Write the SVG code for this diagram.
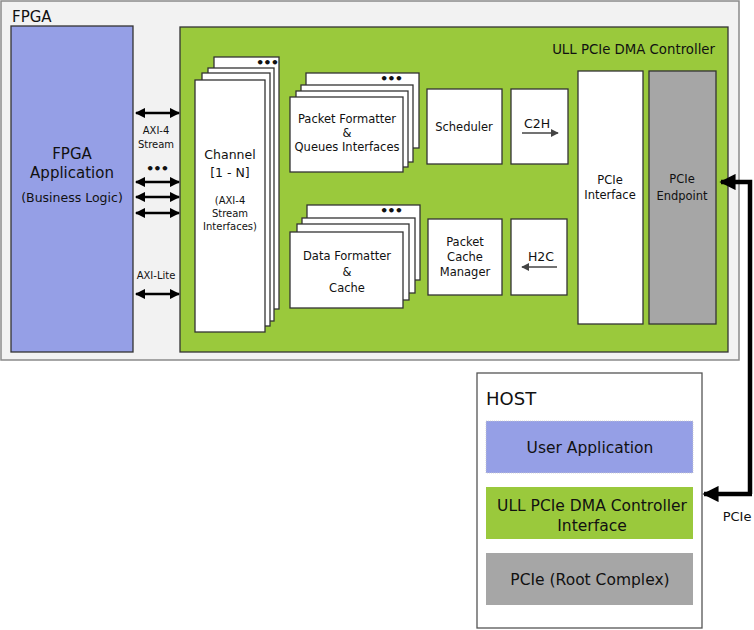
<svg xmlns="http://www.w3.org/2000/svg" width="754" height="630" viewBox="0 0 754 630">
<defs>
<style>
text{font-family:"DejaVu Sans","Noto Sans",sans-serif;fill:#111;text-anchor:middle}
.box{fill:#fff;stroke:#333;stroke-width:1.3}
.lbl{font-size:12.5px}
.sm{font-size:11.5px}
.xs{font-size:10px}
.dots{font-size:13px;font-weight:bold;letter-spacing:-1px}
.big{font-size:15px}
.host{font-size:15.5px}
.bus{stroke:#000;stroke-width:2.5;fill:none;marker-start:url(#ah);marker-end:url(#ah)}
</style>
<marker id="ah" viewBox="0 0 10 10" refX="9" refY="5" markerWidth="4.2" markerHeight="4.2" orient="auto-start-reverse" markerUnits="strokeWidth">
<path d="M0,0 L10,5 L0,10 z" fill="#000"/>
</marker>
<marker id="sa" viewBox="0 0 10 10" refX="9" refY="5" markerWidth="5" markerHeight="5" orient="auto" markerUnits="strokeWidth">
<path d="M0,0 L10,5 L0,10 z" fill="#444"/>
</marker>
<marker id="big" viewBox="0 0 10 10" refX="9" refY="5" markerWidth="3.6" markerHeight="3.6" orient="auto" markerUnits="strokeWidth">
<path d="M0,0 L10,5 L0,10 z" fill="#000"/>
</marker>
</defs>

<g id="fpga">
<rect x="1" y="1" width="738" height="359" fill="#f2f2f2" stroke="#8a8a8a" stroke-width="1.5"/>
<text x="12" y="22" style="font-size:15px;text-anchor:start">FPGA</text>
</g>

<g id="fpga-app">
<rect x="11" y="26" width="122" height="326" fill="#959fe6" stroke="#333" stroke-width="1.3"/>
<text x="72" y="159" class="big">FPGA</text>
<text x="72" y="178" class="big">Application</text>
<text x="72" y="202" class="lbl">(Business Logic)</text>
</g>

<g id="dma-controller">
<rect x="180" y="27" width="548" height="325" fill="#9ac93c" stroke="#333" stroke-width="1.3"/>
<text x="715" y="54" style="font-size:13.3px;text-anchor:end">ULL PCIe DMA Controller</text>
</g>

<g id="channel">
<rect class="box" x="214" y="57" width="65" height="252"/>
<rect class="box" x="208" y="68" width="66" height="253"/>
<rect class="box" x="202" y="73" width="68" height="253"/>
<rect class="box" x="195" y="80" width="70" height="252"/>
<text x="267" y="67" class="dots">•••</text>
<text x="230" y="159" class="lbl">Channel</text>
<text x="230" y="177" class="lbl">[1 - N]</text>
<text x="230" y="204" class="xs">(AXI-4</text>
<text x="230" y="217" class="xs">Stream</text>
<text x="230" y="230" class="xs">Interfaces)</text>
</g>

<g id="packet-formatter">
<rect class="box" x="306" y="73" width="113" height="75"/>
<rect class="box" x="301" y="85" width="112" height="77"/>
<rect class="box" x="296" y="91" width="112" height="76"/>
<rect class="box" x="290" y="97" width="113" height="75"/>
<text x="391" y="83" class="dots">•••</text>
<text x="347" y="123" class="sm">Packet Formatter</text>
<text x="347" y="137" class="sm">&amp;</text>
<text x="347" y="151" class="sm">Queues Interfaces</text>
</g>

<g id="data-formatter">
<rect class="box" x="307" y="205" width="113" height="75"/>
<rect class="box" x="302" y="218" width="113" height="75"/>
<rect class="box" x="297" y="224" width="112" height="76"/>
<rect class="box" x="290" y="232" width="113" height="76"/>
<text x="391" y="215" class="dots">•••</text>
<text x="347" y="260" class="sm">Data Formatter</text>
<text x="347" y="276" class="sm">&amp;</text>
<text x="347" y="292" class="sm">Cache</text>
</g>

<g id="scheduler">
<rect class="box" x="427" y="89" width="75" height="75"/>
<text x="464" y="131" class="sm">Scheduler</text>
</g>

<g id="c2h">
<rect class="box" x="511" y="89" width="57" height="75"/>
<text x="537" y="128" class="lbl">C2H</text>
</g>

<g id="packet-cache-manager">
<rect class="box" x="428" y="219" width="74" height="76"/>
<text x="465" y="246" class="sm">Packet</text>
<text x="465" y="261" class="sm">Cache</text>
<text x="465" y="276" class="sm">Manager</text>
</g>

<g id="h2c">
<rect class="box" x="511" y="219" width="56" height="76"/>
<text x="541" y="261" class="lbl">H2C</text>
</g>

<g id="pcie-interface">
<rect class="box" x="578" y="71" width="65" height="253"/>
<text x="610" y="184" class="sm">PCIe</text>
<text x="610" y="199" class="sm">Interface</text>
</g>

<g id="pcie-endpoint">
<rect x="649" y="71" width="67" height="253" fill="#a6a6a6" stroke="#333" stroke-width="1.3"/>
<text x="682" y="183" class="sm">PCIe</text>
<text x="682" y="200" class="sm">Endpoint</text>
</g>

<g id="host">
<rect x="477" y="373" width="225" height="255" fill="#fff" stroke="#555" stroke-width="1.3"/>
<text x="486" y="405" style="font-size:18px;text-anchor:start">HOST</text>
</g>

<g id="user-application">
<rect x="486" y="421" width="207" height="52" fill="#959fe6" stroke="#ccc" stroke-width="0.8" stroke-dasharray="1,1"/>
<text x="590" y="453" class="host">User Application</text>
</g>

<g id="host-dma-interface">
<rect x="486" y="487" width="207" height="52" fill="#9ac93c"/>
<text x="592" y="511" class="host">ULL PCIe DMA Controller</text>
<text x="592" y="531" class="host">Interface</text>
</g>

<g id="root-complex">
<rect x="486" y="553" width="207" height="52" fill="#a6a6a6"/>
<text x="590" y="585" class="host">PCIe (Root Complex)</text>
</g>

<g id="connectors">
<text x="156" y="134" class="xs">AXI-4</text>
<text x="156" y="148" class="xs">Stream</text>
<line class="bus" x1="136" y1="113" x2="179" y2="113"/>
<text x="157" y="173" class="dots">•••</text>
<line class="bus" x1="136" y1="182" x2="179" y2="182"/>
<line class="bus" x1="136" y1="197" x2="179" y2="197"/>
<line class="bus" x1="136" y1="213" x2="179" y2="213"/>
<text x="156" y="279" class="xs">AXI-Lite</text>
<line class="bus" x1="136" y1="294" x2="179" y2="294"/>

<line x1="522" y1="133" x2="558" y2="133" stroke="#444" stroke-width="1.6" marker-end="url(#sa)"/>
<line x1="557" y1="267" x2="522" y2="267" stroke="#444" stroke-width="1.6" marker-end="url(#sa)"/>

<path d="M750,494 L750,182 L721,182" fill="none" stroke="#000" stroke-width="4.5" marker-end="url(#big)"/>
<path d="M752,494 L704,494" fill="none" stroke="#000" stroke-width="4.5" marker-end="url(#big)"/>
<text x="737" y="521" style="font-size:13px">PCIe</text>
</g>
</svg>
